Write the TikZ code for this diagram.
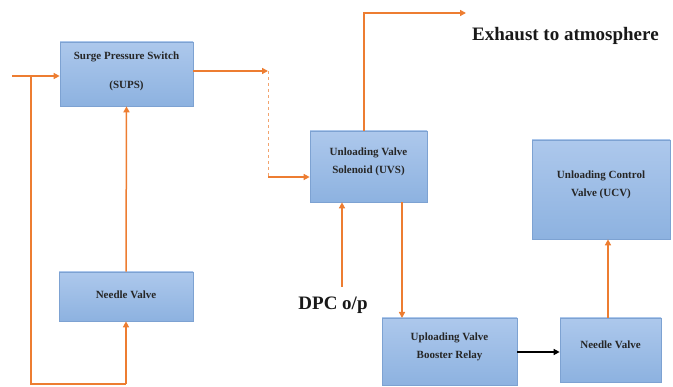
\documentclass[tikz,border=0pt]{standalone}
\usepackage{fontspec}
\setmainfont{Liberation Serif}
\usetikzlibrary{arrows.meta}
\definecolor{org}{HTML}{ED7D31}
\definecolor{bfill1}{HTML}{ADC8EC}
\definecolor{bfill2}{HTML}{8DB2E0}
\definecolor{bline}{HTML}{7DA2D2}
\tikzset{
  blk/.style={draw=bline, line width=0.7pt, top color=bfill1, bottom color=bfill2, inner sep=0pt},
  btxt/.style={inner sep=0pt, align=center, font=\fontsize{11}{18}\selectfont\bfseries, text=black!85},
  oarr/.style={draw=org, line width=2pt, -{Triangle[length=6pt,width=6pt]}},
  oline/.style={draw=org, line width=2pt},
  bigtxt/.style={font=\fontsize{19}{22}\selectfont\bfseries, text=black!90, inner sep=0pt}
}
\begin{document}
\begin{tikzpicture}[x=1pt,y=-1pt]
\useasboundingbox (0,0) rectangle (673,387);
% boxes
\node[blk, minimum width=133pt, minimum height=64pt] (sups) at (126.5,74) {};
\node[blk, minimum width=134pt, minimum height=49pt] (nvl) at (126,296.5) {};
\node[blk, minimum width=117pt, minimum height=71pt] (uvs) at (368.5,166.5) {};
\node[blk, minimum width=138pt, minimum height=99pt] (ucv) at (601,189.5) {};
\node[blk, minimum width=135pt, minimum height=67pt] (uvbr) at (449.5,351.5) {};
\node[blk, minimum width=101pt, minimum height=64pt] (nvr) at (610.5,350) {};
% box texts
\node[btxt] (supst) at ([yshift=3pt]sups.center) {Surge Pressure Switch\\[11pt](SUPS)};
\node[btxt] (nvlt) at ([yshift=2pt]nvl.center) {Needle Valve};
\node[btxt] (uvst) at ([yshift=5pt]uvs.center) {Unloading Valve\\Solenoid (UVS)};
\node[btxt] (ucvt) at ([yshift=5pt]ucv.center) {Unloading Control\\Valve (UCV)};
\node[btxt] (uvbrt) at ([yshift=5pt]uvbr.center) {Uploading Valve\\Booster Relay};
\node[btxt] (nvrt) at ([yshift=5pt]nvr.center) {Needle Valve};
% texts
\node[bigtxt, anchor=west] (exh) at (472,36) {Exhaust to atmosphere};
\node[bigtxt] (dpc) at (333,305) {DPC o/p};
% coordinates
\coordinate (in) at (12,76);
\coordinate (j1) at (31,76);
\coordinate (b1) at (31,384);
\coordinate (b2) at (126,384);
\coordinate (d1) at (268,71);
\coordinate (d2) at (268,177);
\coordinate (u1) at (364,13);
\coordinate (ex) at (466,13);
\coordinate (dp) at (342,287);
% connectors
\draw[oarr] (in) -- (in -| sups.west);
\draw[oline, line width=1.5pt] (j1) -- (b1) -- (b2);
\draw[oarr, line width=1.5pt] (b2) -- (nvl.south);
\draw[oarr, line width=1.5pt] (nvl.north) -- (sups.south);
\draw[oarr] (sups.east |- d1) -- (d1);
\draw[draw=org!70, line width=0.9pt, dashed] (d1) -- (d2);
\draw[oarr] (d2) -- (d2 -| uvs.west);
\draw[oarr] (uvs.north -| u1) -- (u1) -- (ex);
\draw[oarr, line width=1.5pt] (dp) -- (dp |- uvs.south);
\draw[oarr, line width=1.5pt] (uvs.south -| 402,0) -- (402,318);
\draw[draw=black, line width=1.5pt, -{Triangle[length=6pt,width=6pt]}] (uvbr.east |- 0,352) -- (nvr.west |- 0,352);
\draw[oarr, line width=1.5pt] (nvr.north -| 608,0) -- (ucv.south -| 608,0);
\end{tikzpicture}
\end{document}
